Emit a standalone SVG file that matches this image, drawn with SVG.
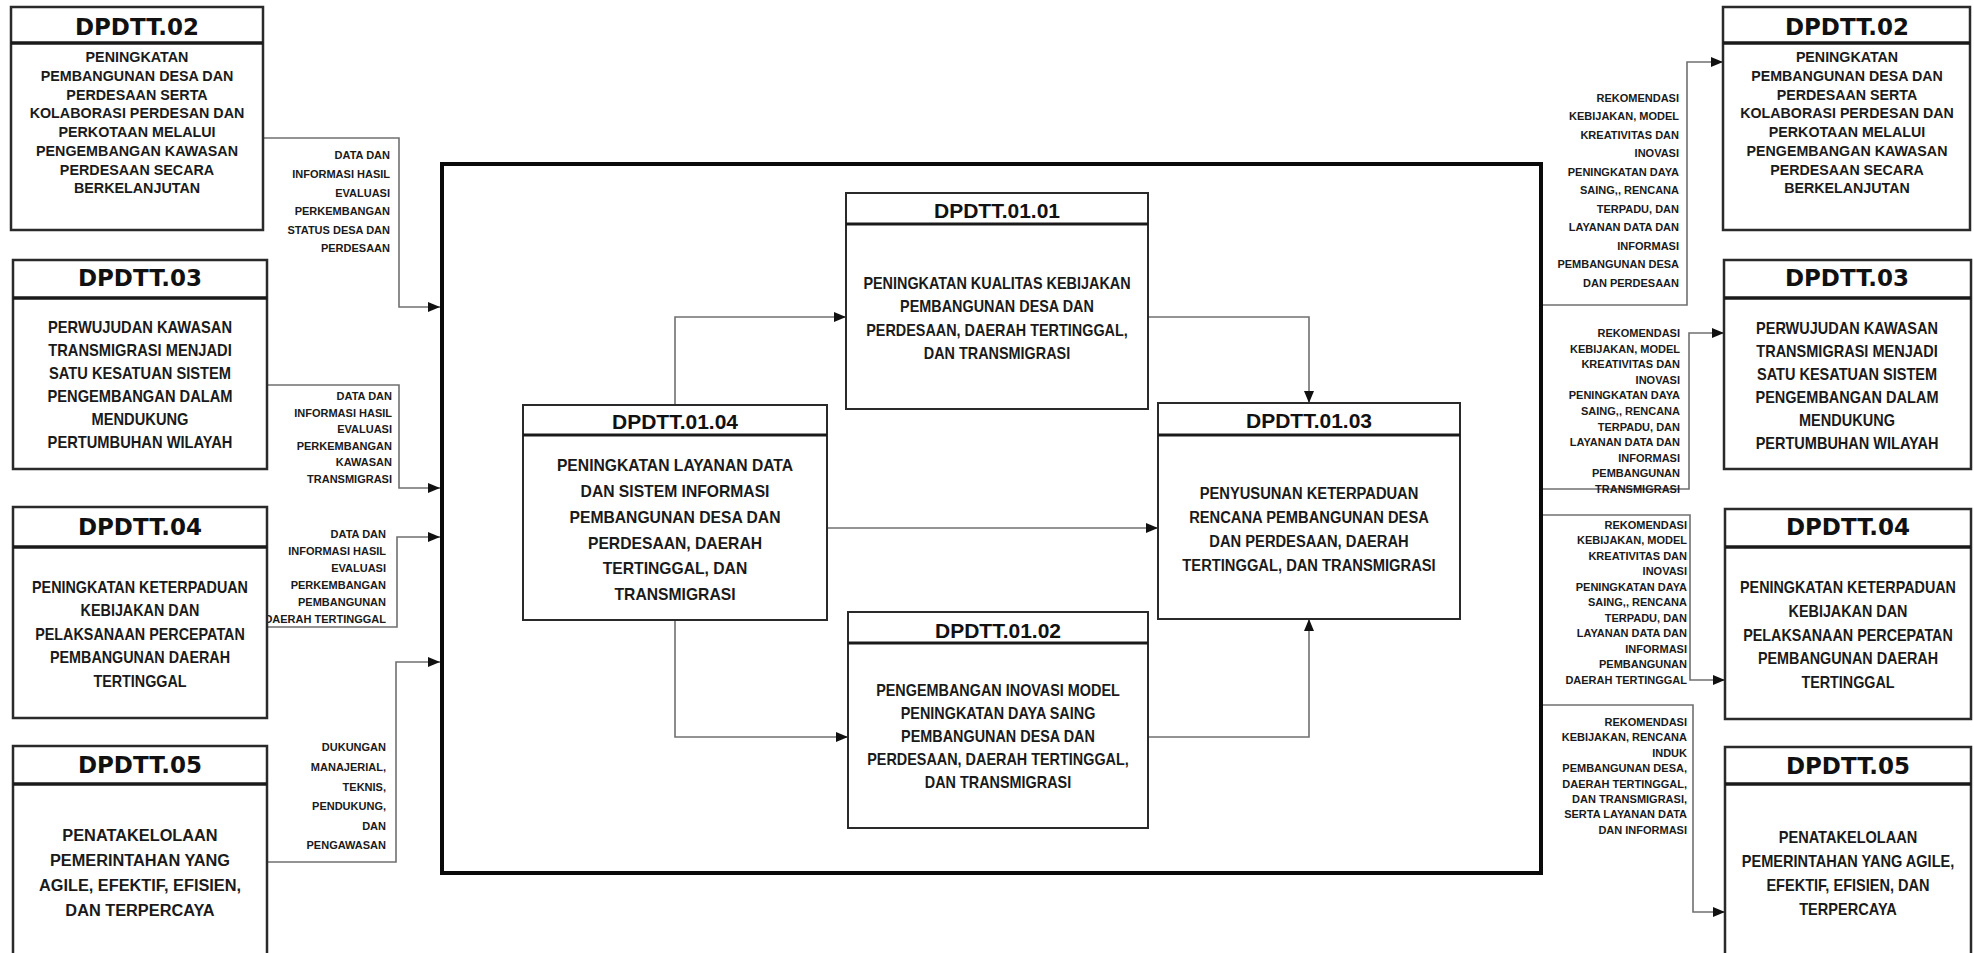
<svg xmlns="http://www.w3.org/2000/svg" width="1974" height="953" viewBox="0 0 1974 953">
<style>
.bg{fill:#fff}
.box{fill:#fff;stroke:#2a2a2a;stroke-width:2.5}
.ibox{fill:#fff;stroke:#2a2a2a;stroke-width:2}
.hdr{stroke:#1a1a1a;stroke-width:3.5}
.ihdr{stroke:#1a1a1a;stroke-width:3}
.frame{fill:none;stroke:#0a0a0a;stroke-width:4}
.ttl{font-family:"DejaVu Sans",sans-serif;font-weight:bold;font-size:23px;fill:#111;text-anchor:middle}
.ittl{font-family:"Liberation Sans",Arial,sans-serif;font-weight:bold;font-size:21px;fill:#111;text-anchor:middle}
.b{font-family:"Liberation Sans",Arial,sans-serif;font-weight:bold;fill:#1a1a1a;text-anchor:middle}
.lbl{font-family:"Liberation Sans",Arial,sans-serif;font-weight:bold;font-size:11px;fill:#1a1a1a;text-anchor:end}
.con{fill:none;stroke:#707070;stroke-width:1.6}
</style>
<defs>
<marker id="ah" viewBox="0 0 12 10" refX="12" refY="5" markerWidth="12" markerHeight="10" markerUnits="userSpaceOnUse" orient="auto">
<path d="M0,0 L12,5 L0,10 z" fill="#111"/>
</marker>
</defs>
<rect class="bg" x="0" y="0" width="1974" height="953"/>

<rect id="main-frame" class="frame" x="442" y="164" width="1099" height="709"/>

<g id="connectors">
<polyline class="con" points="264,138 399,138 399,307 440,307" marker-end="url(#ah)"/>
<polyline class="con" points="267,385 399,385 399,488 440,488" marker-end="url(#ah)"/>
<polyline class="con" points="267,627 397,627 397,537 440,537" marker-end="url(#ah)"/>
<polyline class="con" points="267,862 396,862 396,662 440,662" marker-end="url(#ah)"/>
<polyline class="con" points="675,405 675,317 846,317" marker-end="url(#ah)"/>
<polyline class="con" points="675,620 675,737 848,737" marker-end="url(#ah)"/>
<polyline class="con" points="827,528 1158,528" marker-end="url(#ah)"/>
<polyline class="con" points="1148,317 1309,317 1309,403" marker-end="url(#ah)"/>
<polyline class="con" points="1148,737 1309,737 1309,619" marker-end="url(#ah)"/>
<polyline class="con" points="1543,305 1687,305 1687,62 1723,62" marker-end="url(#ah)"/>
<polyline class="con" points="1543,489 1689,489 1689,333 1724,333" marker-end="url(#ah)"/>
<polyline class="con" points="1543,515 1690,515 1690,680 1725,680" marker-end="url(#ah)"/>
<polyline class="con" points="1543,705 1693,705 1693,912 1725,912" marker-end="url(#ah)"/>

<text class="lbl" font-size="12"><tspan x="390" y="159.3">DATA DAN</tspan><tspan x="390" y="177.9">INFORMASI HASIL</tspan><tspan x="390" y="196.5">EVALUASI</tspan><tspan x="390" y="215.1">PERKEMBANGAN</tspan><tspan x="390" y="233.7">STATUS DESA DAN</tspan><tspan x="390" y="252.3">PERDESAAN</tspan></text>
<text class="lbl"><tspan x="392" y="399.9">DATA DAN</tspan><tspan x="392" y="416.5">INFORMASI HASIL</tspan><tspan x="392" y="433.1">EVALUASI</tspan><tspan x="392" y="449.7">PERKEMBANGAN</tspan><tspan x="392" y="466.3">KAWASAN</tspan><tspan x="392" y="482.9">TRANSMIGRASI</tspan></text>
<text class="lbl" font-size="10.5"><tspan x="386" y="537.8">DATA DAN</tspan><tspan x="386" y="554.8">INFORMASI HASIL</tspan><tspan x="386" y="571.8">EVALUASI</tspan><tspan x="386" y="588.8">PERKEMBANGAN</tspan><tspan x="386" y="605.8">PEMBANGUNAN</tspan><tspan x="386" y="622.8">DAERAH TERTINGGAL</tspan></text>
<text class="lbl" font-size="12"><tspan x="386" y="751.3">DUKUNGAN</tspan><tspan x="386" y="770.9">MANAJERIAL,</tspan><tspan x="386" y="790.5">TEKNIS,</tspan><tspan x="386" y="810.1">PENDUKUNG,</tspan><tspan x="386" y="829.7">DAN</tspan><tspan x="386" y="849.3">PENGAWASAN</tspan></text>

<text class="lbl"><tspan x="1679" y="101.9">REKOMENDASI</tspan><tspan x="1679" y="120.4">KEBIJAKAN, MODEL</tspan><tspan x="1679" y="138.9">KREATIVITAS DAN</tspan><tspan x="1679" y="157.4">INOVASI</tspan><tspan x="1679" y="175.9">PENINGKATAN DAYA</tspan><tspan x="1679" y="194.4">SAING,, RENCANA</tspan><tspan x="1679" y="212.9">TERPADU, DAN</tspan><tspan x="1679" y="231.4">LAYANAN DATA DAN</tspan><tspan x="1679" y="249.9">INFORMASI</tspan><tspan x="1679" y="268.4">PEMBANGUNAN DESA</tspan><tspan x="1679" y="286.9">DAN PERDESAAN</tspan></text>
<text class="lbl"><tspan x="1680" y="336.9">REKOMENDASI</tspan><tspan x="1680" y="352.5">KEBIJAKAN, MODEL</tspan><tspan x="1680" y="368.1">KREATIVITAS DAN</tspan><tspan x="1680" y="383.7">INOVASI</tspan><tspan x="1680" y="399.3">PENINGKATAN DAYA</tspan><tspan x="1680" y="414.9">SAING,, RENCANA</tspan><tspan x="1680" y="430.5">TERPADU, DAN</tspan><tspan x="1680" y="446.1">LAYANAN DATA DAN</tspan><tspan x="1680" y="461.7">INFORMASI</tspan><tspan x="1680" y="477.3">PEMBANGUNAN</tspan><tspan x="1680" y="492.9">TRANSMIGRASI</tspan></text>
<text class="lbl"><tspan x="1687" y="528.9">REKOMENDASI</tspan><tspan x="1687" y="544.4">KEBIJAKAN, MODEL</tspan><tspan x="1687" y="559.9">KREATIVITAS DAN</tspan><tspan x="1687" y="575.4">INOVASI</tspan><tspan x="1687" y="590.9">PENINGKATAN DAYA</tspan><tspan x="1687" y="606.4">SAING,, RENCANA</tspan><tspan x="1687" y="621.9">TERPADU, DAN</tspan><tspan x="1687" y="637.4">LAYANAN DATA DAN</tspan><tspan x="1687" y="652.9">INFORMASI</tspan><tspan x="1687" y="668.4">PEMBANGUNAN</tspan><tspan x="1687" y="683.9">DAERAH TERTINGGAL</tspan></text>
<text class="lbl"><tspan x="1687" y="725.9">REKOMENDASI</tspan><tspan x="1687" y="741.3">KEBIJAKAN, RENCANA</tspan><tspan x="1687" y="756.7">INDUK</tspan><tspan x="1687" y="772.1">PEMBANGUNAN DESA,</tspan><tspan x="1687" y="787.5">DAERAH TERTINGGAL,</tspan><tspan x="1687" y="802.9">DAN TRANSMIGRASI,</tspan><tspan x="1687" y="818.3">SERTA LAYANAN DATA</tspan><tspan x="1687" y="833.7">DAN INFORMASI</tspan></text>
</g>

<g id="left-dpdtt02">
<rect class="box" x="11" y="7" width="252" height="223"/>
<line class="hdr" x1="11" y1="43" x2="263" y2="43"/>
<text class="ttl" x="137" y="35.4">DPDTT.02</text>
<text class="b" font-size="15" transform="translate(137 0) scale(0.955 1)"><tspan x="0" y="62.4">PENINGKATAN</tspan><tspan x="0" y="81.1">PEMBANGUNAN DESA DAN</tspan><tspan x="0" y="99.8">PERDESAAN SERTA</tspan><tspan x="0" y="118.5">KOLABORASI PERDESAN DAN</tspan><tspan x="0" y="137.2">PERKOTAAN MELALUI</tspan><tspan x="0" y="155.9">PENGEMBANGAN KAWASAN</tspan><tspan x="0" y="174.6">PERDESAAN SECARA</tspan><tspan x="0" y="193.3">BERKELANJUTAN</tspan></text>
</g>

<g id="left-dpdtt03">
<rect class="box" x="13" y="260" width="254" height="209"/>
<line class="hdr" x1="13" y1="298" x2="267" y2="298"/>
<text class="ttl" x="140" y="286.4">DPDTT.03</text>
<text class="b" font-size="16.5" transform="translate(140 0) scale(0.89 1)"><tspan x="0" y="332.9">PERWUJUDAN KAWASAN</tspan><tspan x="0" y="355.9">TRANSMIGRASI MENJADI</tspan><tspan x="0" y="378.9">SATU KESATUAN SISTEM</tspan><tspan x="0" y="401.9">PENGEMBANGAN DALAM</tspan><tspan x="0" y="424.9">MENDUKUNG</tspan><tspan x="0" y="447.9">PERTUMBUHAN WILAYAH</tspan></text>
</g>

<g id="left-dpdtt04">
<rect class="box" x="13" y="507" width="254" height="211"/>
<line class="hdr" x1="13" y1="547" x2="267" y2="547"/>
<text class="ttl" x="140" y="535.4">DPDTT.04</text>
<text class="b" font-size="16.5" transform="translate(140 0) scale(0.87 1)"><tspan x="0" y="592.9">PENINGKATAN KETERPADUAN</tspan><tspan x="0" y="616.4">KEBIJAKAN DAN</tspan><tspan x="0" y="639.9">PELAKSANAAN PERCEPATAN</tspan><tspan x="0" y="663.4">PEMBANGUNAN DAERAH</tspan><tspan x="0" y="686.9">TERTINGGAL</tspan></text>
</g>

<g id="left-dpdtt05">
<rect class="box" x="13" y="746" width="254" height="220"/>
<line class="hdr" x1="13" y1="784" x2="267" y2="784"/>
<text class="ttl" x="140" y="773.4">DPDTT.05</text>
<text class="b" font-size="16" transform="translate(140 0) scale(1.02 1)"><tspan x="0" y="840.7">PENATAKELOLAAN</tspan><tspan x="0" y="865.7">PEMERINTAHAN YANG</tspan><tspan x="0" y="890.7">AGILE, EFEKTIF, EFISIEN,</tspan><tspan x="0" y="915.7">DAN TERPERCAYA</tspan></text>
</g>

<g id="dpdtt-01-04">
<rect class="ibox" x="523" y="405" width="304" height="215"/>
<line class="ihdr" x1="523" y1="435" x2="827" y2="435"/>
<text class="ittl" x="675" y="429">DPDTT.01.04</text>
<text class="b" font-size="16" transform="translate(675 0) scale(0.98 1)"><tspan x="0" y="470.7">PENINGKATAN LAYANAN DATA</tspan><tspan x="0" y="496.7">DAN SISTEM INFORMASI</tspan><tspan x="0" y="522.7">PEMBANGUNAN DESA DAN</tspan><tspan x="0" y="548.7">PERDESAAN, DAERAH</tspan><tspan x="0" y="573.7">TERTINGGAL, DAN</tspan><tspan x="0" y="599.7">TRANSMIGRASI</tspan></text>
</g>

<g id="dpdtt-01-01">
<rect class="ibox" x="846" y="193" width="302" height="216"/>
<line class="ihdr" x1="846" y1="224" x2="1148" y2="224"/>
<text class="ittl" x="997" y="217.5">DPDTT.01.01</text>
<text class="b" font-size="16" transform="translate(997 0) scale(0.9 1)"><tspan x="0" y="288.7">PENINGKATAN KUALITAS KEBIJAKAN</tspan><tspan x="0" y="312.2">PEMBANGUNAN DESA DAN</tspan><tspan x="0" y="335.7">PERDESAAN, DAERAH TERTINGGAL,</tspan><tspan x="0" y="359.2">DAN TRANSMIGRASI</tspan></text>
</g>

<g id="dpdtt-01-03">
<rect class="ibox" x="1158" y="403" width="302" height="216"/>
<line class="ihdr" x1="1158" y1="435" x2="1460" y2="435"/>
<text class="ittl" x="1309" y="427.5">DPDTT.01.03</text>
<text class="b" font-size="16" transform="translate(1309 0) scale(0.92 1)"><tspan x="0" y="498.7">PENYUSUNAN KETERPADUAN</tspan><tspan x="0" y="522.7">RENCANA PEMBANGUNAN DESA</tspan><tspan x="0" y="546.7">DAN PERDESAAN, DAERAH</tspan><tspan x="0" y="570.7">TERTINGGAL, DAN TRANSMIGRASI</tspan></text>
</g>

<g id="dpdtt-01-02">
<rect class="ibox" x="848" y="612" width="300" height="216"/>
<line class="ihdr" x1="848" y1="643" x2="1148" y2="643"/>
<text class="ittl" x="998" y="637.5">DPDTT.01.02</text>
<text class="b" font-size="16" transform="translate(998 0) scale(0.9 1)"><tspan x="0" y="695.7">PENGEMBANGAN INOVASI MODEL</tspan><tspan x="0" y="718.7">PENINGKATAN DAYA SAING</tspan><tspan x="0" y="741.7">PEMBANGUNAN DESA DAN</tspan><tspan x="0" y="764.7">PERDESAAN, DAERAH TERTINGGAL,</tspan><tspan x="0" y="787.7">DAN TRANSMIGRASI</tspan></text>
</g>

<g id="right-dpdtt02">
<rect class="box" x="1723" y="7" width="247" height="223"/>
<line class="hdr" x1="1723" y1="43" x2="1970" y2="43"/>
<text class="ttl" x="1847" y="35.4">DPDTT.02</text>
<text class="b" font-size="15" transform="translate(1847 0) scale(0.95 1)"><tspan x="0" y="62.4">PENINGKATAN</tspan><tspan x="0" y="81.1">PEMBANGUNAN DESA DAN</tspan><tspan x="0" y="99.8">PERDESAAN SERTA</tspan><tspan x="0" y="118.5">KOLABORASI PERDESAN DAN</tspan><tspan x="0" y="137.2">PERKOTAAN MELALUI</tspan><tspan x="0" y="155.9">PENGEMBANGAN KAWASAN</tspan><tspan x="0" y="174.6">PERDESAAN SECARA</tspan><tspan x="0" y="193.3">BERKELANJUTAN</tspan></text>
</g>

<g id="right-dpdtt03">
<rect class="box" x="1724" y="260" width="247" height="209"/>
<line class="hdr" x1="1724" y1="298" x2="1971" y2="298"/>
<text class="ttl" x="1847" y="286.4">DPDTT.03</text>
<text class="b" font-size="16.5" transform="translate(1847 0) scale(0.88 1)"><tspan x="0" y="333.9">PERWUJUDAN KAWASAN</tspan><tspan x="0" y="356.9">TRANSMIGRASI MENJADI</tspan><tspan x="0" y="379.9">SATU KESATUAN SISTEM</tspan><tspan x="0" y="402.9">PENGEMBANGAN DALAM</tspan><tspan x="0" y="425.9">MENDUKUNG</tspan><tspan x="0" y="448.9">PERTUMBUHAN WILAYAH</tspan></text>
</g>

<g id="right-dpdtt04">
<rect class="box" x="1725" y="509" width="246" height="210"/>
<line class="hdr" x1="1725" y1="547" x2="1971" y2="547"/>
<text class="ttl" x="1848" y="535.4">DPDTT.04</text>
<text class="b" font-size="16.5" transform="translate(1848 0) scale(0.87 1)"><tspan x="0" y="592.9">PENINGKATAN KETERPADUAN</tspan><tspan x="0" y="616.9">KEBIJAKAN DAN</tspan><tspan x="0" y="640.9">PELAKSANAAN PERCEPATAN</tspan><tspan x="0" y="663.9">PEMBANGUNAN DAERAH</tspan><tspan x="0" y="687.9">TERTINGGAL</tspan></text>
</g>

<g id="right-dpdtt05">
<rect class="box" x="1725" y="747" width="246" height="220"/>
<line class="hdr" x1="1725" y1="784" x2="1971" y2="784"/>
<text class="ttl" x="1848" y="774.4">DPDTT.05</text>
<text class="b" font-size="16" transform="translate(1848 0) scale(0.91 1)"><tspan x="0" y="842.7">PENATAKELOLAAN</tspan><tspan x="0" y="866.7">PEMERINTAHAN YANG AGILE,</tspan><tspan x="0" y="890.7">EFEKTIF, EFISIEN, DAN</tspan><tspan x="0" y="914.7">TERPERCAYA</tspan></text>
</g>
</svg>
